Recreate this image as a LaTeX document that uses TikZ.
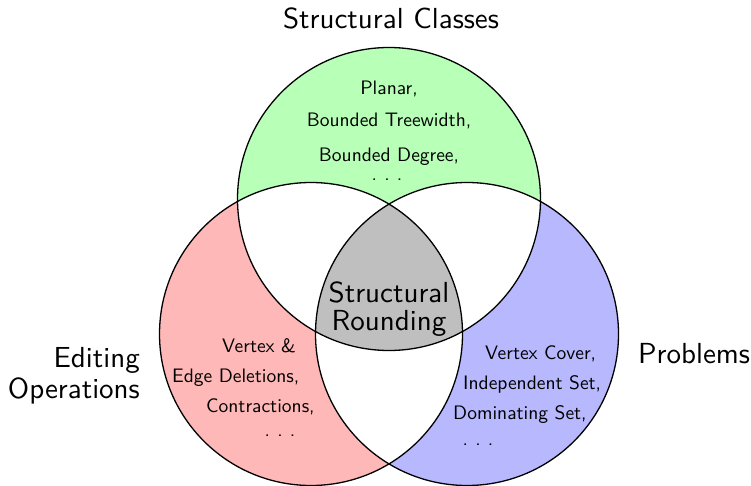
\documentclass[tikz,border=0pt]{standalone}
\usepackage{fontspec}
\setsansfont{lmsans10-regular.otf}
\newcommand{\mydots}{.\hspace{0.37em}.\hspace{0.37em}.}
\begin{document}
\begin{tikzpicture}[x=1pt,y=-1pt,
  lbl/.style={font=\sffamily\fontsize{29}{31}\selectfont, inner sep=0pt},
  small/.style={font=\sffamily\fontsize{19.5}{22}\selectfont, inner sep=0pt},
  ring/.style={draw=black, line width=1.3pt}]
\useasboundingbox (0,0) rectangle (751,486);
\def\rr{151.5pt}
\coordinate (T) at (389,199);
\coordinate (L) at (311,334);
\coordinate (R) at (467,334);
% coloured discs
\fill[green!28] (T) circle[radius=\rr];
\fill[red!28] (L) circle[radius=\rr];
\fill[blue!28] (R) circle[radius=\rr];
% pairwise intersections white
\begin{scope}
  \clip (T) circle[radius=\rr];
  \fill[white] (L) circle[radius=\rr];
  \fill[white] (R) circle[radius=\rr];
\end{scope}
\begin{scope}
  \clip (L) circle[radius=\rr];
  \fill[white] (R) circle[radius=\rr];
\end{scope}
% triple intersection grey
\begin{scope}
  \clip (T) circle[radius=\rr];
  \clip (L) circle[radius=\rr];
  \fill[gray!50] (R) circle[radius=\rr];
\end{scope}
% outlines
\draw[ring] (T) circle[radius=\rr];
\draw[ring] (L) circle[radius=\rr];
\draw[ring] (R) circle[radius=\rr];
% titles
\node[lbl, anchor=base] (tsc) at (391,29) {Structural Classes};
\node[lbl, anchor=base east] (ted) at (140,367) {Editing};
\node[lbl, anchor=base east] (top) at (140,398) {Operations};
\node[lbl, anchor=base west] (tpr) at (638,363) {Problems};
% centre
\node[lbl, anchor=base] (cs) at (389,302) {Structural};
\node[lbl, anchor=base] (cr) at (389,330) {Rounding};
% top circle
\node[small, anchor=base] (t1) at (389,95) {Planar,};
\node[small, anchor=base] (t2) at (389,127) {Bounded Treewidth,};
\node[small, anchor=base] (t3) at (389,162) {Bounded Degree,};
\node[small, anchor=base] (t4) at (387,181) {\mydots};
% left circle
\node[small, anchor=base west] (l1) at (222,352) {Vertex \&};
\node[small, anchor=base west] (l2) at (172,382) {Edge Deletions,};
\node[small, anchor=base west] (l3) at (206,412) {Contractions,};
\node[small, anchor=base] (l4) at (280,436) {\mydots};
% right circle
\node[small, anchor=base west] (r1) at (485,359) {Vertex Cover,};
\node[small, anchor=base west] (r2) at (463,389) {Independent Set,};
\node[small, anchor=base west] (r3) at (453,419) {Dominating Set,};
\node[small, anchor=base] (r4) at (478,445) {\mydots};
\end{tikzpicture}
\end{document}
